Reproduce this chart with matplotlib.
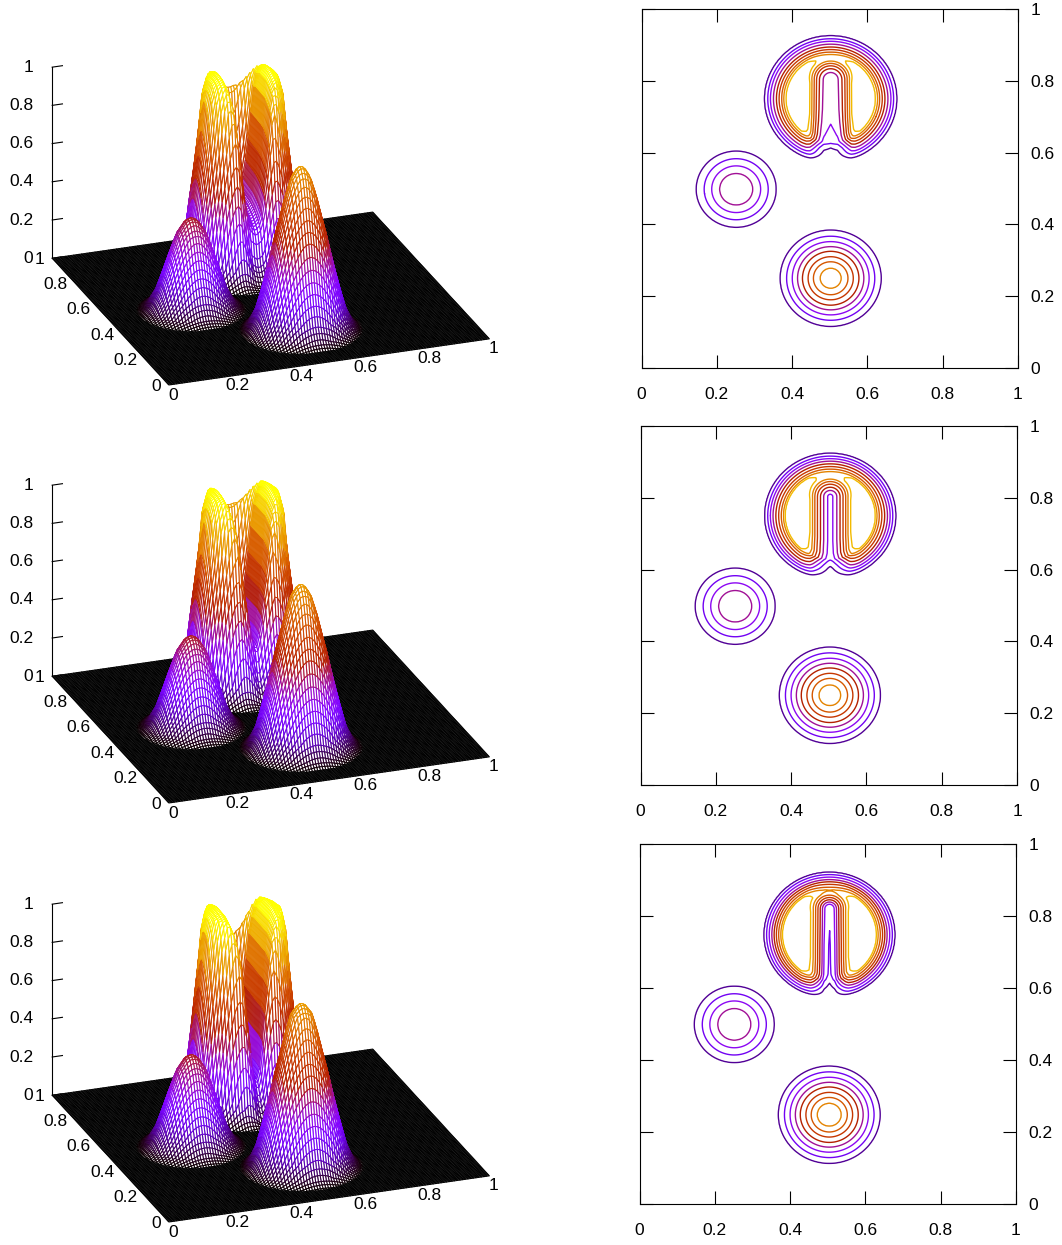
import matplotlib
matplotlib.use('Agg')
import matplotlib.pyplot as plt
import numpy as np
from mpl_toolkits.mplot3d import proj3d
from mpl_toolkits.mplot3d.art3d import Poly3DCollection

plt.rcParams['font.family'] = ['Liberation Sans', 'DejaVu Sans']

W_PX, H_PX = 1062, 1245

# Ticks
ticks = [0, 0.2, 0.4, 0.6, 0.8, 1]
tick_labels = ['0', '0.2', '0.4', '0.6', '0.8', '1']
levels = [0.1, 0.2, 0.3, 0.4, 0.5, 0.6, 0.7, 0.8, 0.9]

# Centres (x, y), one entry per row
hump_centre = [(0.2515, 0.498), (0.2515, 0.498), (0.2518, 0.499)]
cone_centre = [(0.5025, 0.25), (0.503, 0.25), (0.504, 0.248)]
cyl_centre = [(0.5025, 0.75), (0.504, 0.75), (0.5046, 0.748)]

# Hump: radius from centre against height
hump_r = [0, 0.02, 0.044, 0.065, 0.085, 0.106, 0.13, 0.155]
hump_z = [0.485, 0.465, 0.4, 0.3, 0.2, 0.1, 0.03, 0]

# Cone: radius from centre against height
cone_z = [0.86, 0.845, 0.8, 0.7, 0.6, 0.5, 0.4, 0.3, 0.2, 0.1, 0.03, 0]
cone_r_1 = [0, 0.012, 0.028, 0.046, 0.060, 0.075, 0.088, 0.102, 0.117, 0.134, 0.155, 0.175]
cone_r_2 = [0, 0.012, 0.029, 0.047, 0.061, 0.076, 0.089, 0.103, 0.118, 0.134, 0.155, 0.175]
cone_r_3 = [0, 0.013, 0.032, 0.048, 0.062, 0.077, 0.090, 0.104, 0.119, 0.135, 0.155, 0.175]

# Slotted cylinder, outer wall: radius from centre against height
cyl_z_1 = [1.04, 1.04, 0.99, 0.9, 0.8, 0.7, 0.6, 0.5, 0.4, 0.3, 0.2, 0.1, 0.04, 0]
cyl_z_2 = [1.04, 1.04, 1.0, 0.9, 0.8, 0.7, 0.6, 0.5, 0.4, 0.3, 0.2, 0.1, 0.04, 0]
cyl_z_3 = [1.04, 1.04, 1.01, 0.9, 0.8, 0.7, 0.6, 0.5, 0.4, 0.3, 0.2, 0.1, 0.04, 0]
cyl_r_1 = [0, 0.07, 0.105, 0.119, 0.1245, 0.130, 0.137, 0.144, 0.152, 0.160, 0.167, 0.1755, 0.19, 0.21]
cyl_r_2 = [0, 0.07, 0.105, 0.120, 0.124, 0.130, 0.137, 0.1445, 0.152, 0.159, 0.166, 0.174, 0.188, 0.207]
cyl_r_3 = [0, 0.08, 0.112, 0.125, 0.129, 0.135, 0.141, 0.147, 0.153, 0.160, 0.167, 0.1735, 0.188, 0.205]

# Slot wall: distance from the slot axis against fill fraction
slot_dx_1 = [0, 0.0186, 0.029, 0.037, 0.0433, 0.0495, 0.055, 0.065, 0.078]
slot_q_1 = [0, 0.053, 0.201, 0.349, 0.497, 0.645, 0.793, 0.93, 1]
slot_dx_2 = [0, 0.007, 0.0175, 0.026, 0.034, 0.041, 0.047, 0.054, 0.065, 0.078]
slot_q_2 = [0, 0.051, 0.179, 0.308, 0.436, 0.564, 0.692, 0.821, 0.93, 1]
slot_dx_3 = [0, 0.014, 0.019, 0.025, 0.031, 0.037, 0.043, 0.05, 0.062, 0.075]
slot_q_3 = [0, 0.122, 0.24, 0.359, 0.478, 0.596, 0.715, 0.834, 0.93, 1]

# Slot floor: y against the value left on the slot axis; the slot ends at slot_top
slot_top = [0.803, 0.803, 0.82]
floor_y_1 = [0.58, 0.613, 0.6265, 0.678, 0.72, 0.803]
floor_w_1 = [0.13, 0.167, 0.256, 0.288, 0.317, 0.337]
floor_y_2 = [0.58, 0.609, 0.629, 0.68, 0.76, 0.803]
floor_w_2 = [0.13, 0.18, 0.25, 0.25, 0.25, 0.25]
floor_y_3 = [0.58, 0.6145, 0.64, 0.72, 0.768, 0.82]
floor_w_3 = [0.11, 0.14, 0.17, 0.178, 0.192, 0.202]

cone_r = [cone_r_1, cone_r_2, cone_r_3]
cyl_r = [cyl_r_1, cyl_r_2, cyl_r_3]
cyl_z = [cyl_z_1, cyl_z_2, cyl_z_3]
slot_dx = [slot_dx_1, slot_dx_2, slot_dx_3]
slot_q = [slot_q_1, slot_q_2, slot_q_3]
floor_y = [floor_y_1, floor_y_2, floor_y_3]
floor_w = [floor_w_1, floor_w_2, floor_w_3]


def palette(v):
    # gnuplot's default pm3d palette (rgbformulae 7,5,15)
    v = np.clip(v, 0, 1)
    return np.stack([np.sqrt(v), v ** 3, np.clip(np.sin(2 * np.pi * v), 0, 1)], axis=-1)


def field(X, Y, row):
    hx, hy = hump_centre[row]
    u = np.interp(np.hypot(X - hx, Y - hy), hump_r, hump_z)
    cx, cy = cone_centre[row]
    u = u + np.interp(np.hypot(X - cx, Y - cy), cone_r[row], cone_z)
    sx, sy = cyl_centre[row]
    disc = np.interp(np.hypot(X - sx, Y - sy), cyl_r[row], cyl_z[row])
    floor = np.interp(Y, floor_y[row], floor_w[row])
    # slot has a rounded end, so measure from the axis segment
    d = np.hypot(X - sx, np.maximum(Y - slot_top[row], 0))
    wall = np.interp(d, slot_dx[row], slot_q[row])
    return u + disc * (floor + (1 - floor) * wall)


def draw_surface(row, shift):
    # square axes; the view below gives the same projection as the gnuplot panels
    size = 510
    left, top = 8.9, -45.1 + shift
    ax = fig.add_axes([left / W_PX, 1 - (top + size) / H_PX, size / W_PX, size / H_PX],
                      projection='3d')
    ax.set_proj_type('ortho')
    ax.view_init(elev=23.3, azim=-110)
    ax.set_box_aspect((1, 1, 0.6098))
    ax.set_xlim(0, 1)
    ax.set_ylim(0, 1)
    ax.set_zlim(0, 1)
    ax.set_axis_off()
    ax.patch.set_alpha(0)
    ax.computed_zorder = False

    g = np.linspace(0, 1, 121)
    X, Y = np.meshgrid(g, g)
    Z = field(X, Y, row)
    verts = np.stack([
        np.stack([X[:-1, :-1], Y[:-1, :-1], Z[:-1, :-1]], axis=-1),
        np.stack([X[:-1, 1:], Y[:-1, 1:], Z[:-1, 1:]], axis=-1),
        np.stack([X[1:, 1:], Y[1:, 1:], Z[1:, 1:]], axis=-1),
        np.stack([X[1:, :-1], Y[1:, :-1], Z[1:, :-1]], axis=-1),
    ], axis=2).reshape(-1, 4, 3)
    colors = palette(verts[:, :, 2].mean(axis=1))
    surf = Poly3DCollection(verts, facecolors='white', edgecolors=colors, linewidths=0.75)
    ax.add_collection3d(surf)
    surf.set_zorder(2)

    # z axis
    ax.plot([0, 0], [1, 1], [0, 1], color='black', lw=0.8, zorder=1)
    M = ax.get_proj()
    for t, lab in zip(ticks, tick_labels):
        ax.plot([0, 0.032], [1, 1], [t, t], color='black', lw=0.8, zorder=1)
        label_at(ax, M, (0, 1, t), lab, (-19, 0), 'right')
        label_at(ax, M, (t, 0, 0), lab, (4.5, -10), 'center')
        label_at(ax, M, (0, t, 0), lab, (-8, -1), 'right')


def label_at(ax, M, p, text, offset, ha):
    X, Y, _ = proj3d.proj_transform(p[0], p[1], p[2], M)
    ax.annotate(text, xy=(X, Y), xycoords='data', xytext=offset, textcoords='offset pixels',
                ha=ha, va='center', fontsize=FS, annotation_clip=False, zorder=5)


def draw_contour(row, box):
    x0, x1, y0, y1 = box
    ax = fig.add_axes([x0 / W_PX, 1 - y1 / H_PX, (x1 - x0) / W_PX, (y1 - y0) / H_PX])
    g = np.linspace(0, 1, 401)
    X, Y = np.meshgrid(g, g)
    ax.contour(X, Y, field(X, Y, row), levels=levels,
               colors=[tuple(c) for c in palette(np.array(levels))], linewidths=1.0)
    ax.set_xlim(0, 1)
    ax.set_ylim(0, 1)
    ax.set_xticks(ticks)
    ax.set_xticklabels(tick_labels)
    ax.set_yticks(ticks)
    ax.set_yticklabels(tick_labels)
    ax.tick_params(axis='both', direction='in', length=9.4, width=0.8, labelsize=FS,
                   top=True, right=True, left=True, bottom=True,
                   labelleft=False, labelright=True)
    ax.tick_params(axis='x', pad=14)
    ax.tick_params(axis='y', pad=9)
    for s in ax.spines.values():
        s.set_linewidth(0.8)


FS = 12.5
fig = plt.figure(figsize=(W_PX / 100, H_PX / 100), dpi=100)

shifts = [0, 418, 837]
boxes = [(641.5, 1018, 9, 368), (640.5, 1017, 426, 785), (639.5, 1016, 844, 1204)]
for row in range(3):
    draw_surface(row, shifts[row])
    draw_contour(row, boxes[row])

fig.savefig('out.png', dpi=100)
